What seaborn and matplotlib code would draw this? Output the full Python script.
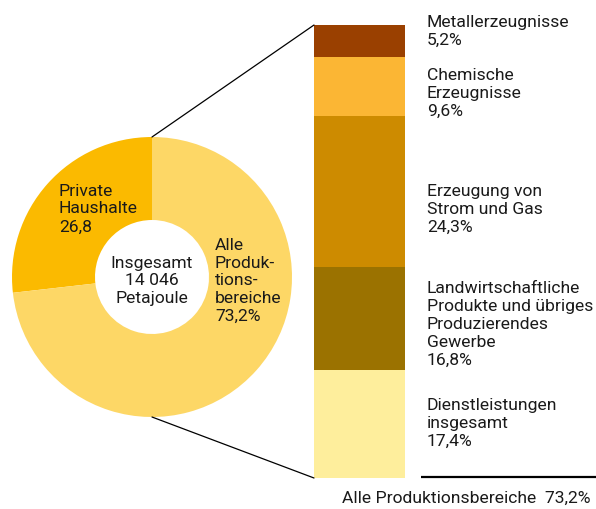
import matplotlib
matplotlib.use("Agg")
import matplotlib.pyplot as plt
from matplotlib.patches import ConnectionPatch
import seaborn as sns

sns.set_theme(style="white")
plt.rcParams["font.family"] = ["Roboto", "DejaVu Sans"]

# Energy consumption split: households vs. production sectors
donut_labels = ["Private\nHaushalte\n26,8", "Alle\nProduk-\ntions-\nbereiche\n73,2%"]
donut_values = [26.8, 73.2]
donut_colors = ["#FBBA00", "#FDD766"]
center_text = "Insgesamt\n14 046\nPetajoule"
total_caption = "Alle Produktionsbereiche  73,2%"

# Breakdown of the production sectors (bottom to top)
sector_names = [
    "Dienstleistungen\ninsgesamt",
    "Landwirtschaftliche\nProdukte und übriges\nProduzierendes\nGewerbe",
    "Erzeugung von\nStrom und Gas",
    "Chemische\nErzeugnisse",
    "Metallerzeugnisse",
]
sector_shares = [17.4, 16.8, 24.3, 9.6, 5.2]
sector_colors = ["#FEEE9C", "#9B7200", "#CD8B00", "#FBB634", "#9A4000"]
label_shift_px = [1.5, -5, -16.5, -5.5, 10.5]

W, H = 596, 510
fig = plt.figure(figsize=(W / 100, H / 100), dpi=100)
FS = 12.6
LS = 1.24
TXT = "#1a1a1a"

# ---- donut ----
cx, cy, r = 152, 278, 140
ax_pie = fig.add_axes([(cx - r) / W, (H - cy - r) / H, 2 * r / W, 2 * r / H])
ax_pie.pie(donut_values, colors=donut_colors, startangle=90, counterclock=True,
           radius=1, wedgeprops=dict(width=1 - 57 / 140, edgecolor="none", linewidth=0))
ax_pie.set_xlim(-1, 1)
ax_pie.set_ylim(-1, 1)
ax_pie.set_aspect("equal")
ax_pie.axis("off")

ax_pie.text((59 - cx) / r, (cy - 209) / r, donut_labels[0], ha="left", va="center",
            fontsize=FS, linespacing=LS, color=TXT)
ax_pie.text((215 - cx) / r, (cy - 281) / r, donut_labels[1], ha="left", va="center",
            fontsize=FS, linespacing=LS, color=TXT)
ax_pie.text(0, (cy - 281) / r, center_text, ha="center", va="center",
            fontsize=FS, linespacing=LS, color=TXT)

# ---- stacked bar ----
bx0, bx1, by0, by1 = 314, 405, 26, 479
ax_bar = fig.add_axes([bx0 / W, (H - by1) / H, (bx1 - bx0) / W, (by1 - by0) / H])
bottom = 0.0
mids = []
for share, color in zip(sector_shares, sector_colors):
    sns.barplot(x=[0], y=[share], bottom=bottom, color=color, saturation=1,
                width=1.0, linewidth=0, edgecolor="none", ax=ax_bar)
    mids.append(bottom + share / 2)
    bottom += share
total = bottom
ax_bar.set_xlim(-0.5, 0.5)
ax_bar.set_ylim(0, total)
ax_bar.axis("off")

label_x = (427 - bx0) / (bx1 - bx0)
for name, share, mid, shift in zip(sector_names, sector_shares, mids, label_shift_px):
    txt = name + "\n" + f"{share:.1f}".replace(".", ",") + "%"
    ax_bar.annotate(txt, xy=(label_x, mid), xycoords=(ax_bar.transAxes, ax_bar.transData),
                    xytext=(0, shift), textcoords="offset pixels", ha="left", va="center",
                    fontsize=FS, linespacing=LS, color=TXT, annotation_clip=False)

# ---- connector lines from donut to bar ----
for yp, yb in [(1, total), (-1, 0)]:
    con = ConnectionPatch(xyA=(0, yp), coordsA=ax_pie.transData,
                          xyB=(-0.5, yb), coordsB=ax_bar.transData,
                          color="black", linewidth=0.9)
    fig.add_artist(con)

# ---- summary rule and caption ----
ax_o = fig.add_axes([0, 0, 1, 1], facecolor="none")
ax_o.set_xlim(0, W)
ax_o.set_ylim(H, 0)
ax_o.axis("off")
ax_o.plot([421, W], [478, 478], color="black", linewidth=1.6, solid_capstyle="butt")
ax_o.text(590, 498, total_caption, ha="right", va="center", fontsize=FS, color=TXT)

fig.savefig("out.png", dpi=100)
